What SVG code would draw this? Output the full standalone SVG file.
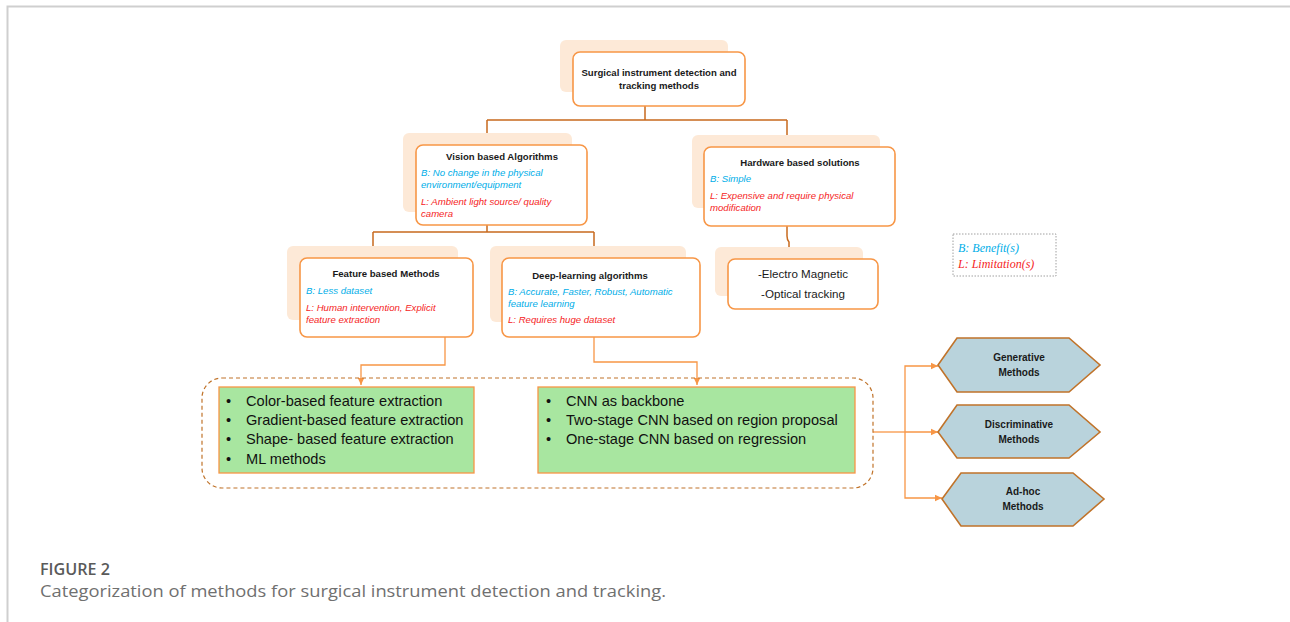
<svg xmlns="http://www.w3.org/2000/svg" width="1290" height="622" viewBox="0 0 1290 622">
<defs>
<style>
.shadow{fill:#fde9d7;stroke:none}
.box{fill:#fff;stroke:#f79646;stroke-width:1.6}
.t{font-family:"Liberation Sans",Arial,sans-serif;font-weight:bold;font-size:9.6px;fill:#1a1a1a;text-anchor:middle}
.b{font-family:"Liberation Sans",Arial,sans-serif;font-style:italic;font-size:9.6px;fill:#00aee8}
.l{font-family:"Liberation Sans",Arial,sans-serif;font-style:italic;font-size:9.6px;fill:#f52424}
.g{fill:#a8e6a0;stroke:#f79646;stroke-width:1.3}
.gt{font-family:"Liberation Sans",Arial,sans-serif;font-size:14.6px;fill:#111}
.hex{fill:#b9d3dc;stroke:#c0732a;stroke-width:1.6}
.ht{font-family:"Liberation Sans",Arial,sans-serif;font-weight:bold;font-size:10px;fill:#1a1a1a;text-anchor:middle}
.conn{fill:none;stroke:#c86a1e;stroke-width:1.5}
.arr{fill:none;stroke:#f79646;stroke-width:1.3}
</style>
<marker id="ah" markerWidth="8" markerHeight="8" refX="7" refY="4" orient="auto" markerUnits="userSpaceOnUse">
<path d="M0,0.8 L7,4 L0,7.2 Z" fill="#f79646"/>
</marker>
</defs>
<rect width="1290" height="622" fill="#fff"/>
<path d="M7.5,622 V6.5 H1290" fill="none" stroke="#cfcfcf" stroke-width="2"/>

<g id="connectors">
<path class="conn" d="M645,106 V120 M487,120 H787 M487,120 V145 M787,120 V147"/>
<path class="conn" d="M487,225 V232 M373,232 H594 M373,232 V258 M594,232 V258"/>
<path class="conn" d="M787,226 V236 Q787,240 789,242 V259"/>
<path class="arr" d="M445,337 V365 H361 V385" marker-end="url(#ah)"/>
<path class="arr" d="M594,337 V362 H697 V385" marker-end="url(#ah)"/>
<path class="arr" d="M873,432 H905"/>
<path class="arr" d="M905,432 V366 H938" marker-end="url(#ah)"/>
<path class="arr" d="M905,432 H938" marker-end="url(#ah)"/>
<path class="arr" d="M905,432 V498 H942" marker-end="url(#ah)"/>
</g>

<g id="top">
<rect class="shadow" x="560" y="40" width="168" height="52" rx="6"/>
<rect class="box" x="573" y="52" width="172" height="54" rx="7"/>
<text class="t" x="659" y="76">Surgical instrument detection and</text>
<text class="t" x="659" y="89">tracking methods</text>
</g>

<g id="vision">
<rect class="shadow" x="403" y="133" width="169" height="79" rx="6"/>
<rect class="box" x="416" y="145" width="171" height="80" rx="7"/>
<text class="t" x="502" y="160">Vision based Algorithms</text>
<text class="b" x="421" y="176">B: No change in the physical</text>
<text class="b" x="421" y="188">environment/equipment</text>
<text class="l" x="421" y="205">L: Ambient light source/ quality</text>
<text class="l" x="421" y="217">camera</text>
</g>

<g id="hardware">
<rect class="shadow" x="692" y="135" width="188" height="73" rx="6"/>
<rect class="box" x="704" y="147" width="191" height="79" rx="7"/>
<text class="t" x="800" y="166">Hardware based solutions</text>
<text class="b" x="710" y="182">B: Simple</text>
<text class="l" x="710" y="199">L: Expensive and require physical</text>
<text class="l" x="710" y="211">modification</text>
</g>

<g id="feature">
<rect class="shadow" x="287" y="246" width="171" height="74" rx="6"/>
<rect class="box" x="300" y="258" width="173" height="79" rx="7"/>
<text class="t" x="386" y="277">Feature based Methods</text>
<text class="b" x="306" y="294">B: Less dataset</text>
<text class="l" x="306" y="311">L: Human intervention, Explicit</text>
<text class="l" x="306" y="323">feature extraction</text>
</g>

<g id="deep">
<rect class="shadow" x="490" y="246" width="196" height="76" rx="6"/>
<rect class="box" x="502" y="258" width="198" height="79" rx="7"/>
<text class="t" x="590" y="279">Deep-learning algorithms</text>
<text class="b" x="508" y="295">B: Accurate, Faster, Robust, Automatic</text>
<text class="b" x="508" y="307">feature learning</text>
<text class="l" x="508" y="323">L: Requires huge dataset</text>
</g>

<g id="em">
<rect class="shadow" x="715" y="247" width="148" height="49" rx="6"/>
<rect class="box" x="728" y="259" width="150" height="50" rx="7"/>
<text x="803" y="278" text-anchor="middle" font-family="Liberation Sans,Arial,sans-serif" font-size="11.6" fill="#1a1a1a">-Electro Magnetic</text>
<text x="803" y="298" text-anchor="middle" font-family="Liberation Sans,Arial,sans-serif" font-size="11.6" fill="#1a1a1a">-Optical tracking</text>
</g>

<g id="legend">
<rect x="953" y="234" width="103" height="42" fill="#fff" stroke="#888" stroke-width="0.8" stroke-dasharray="1.5,1.5"/>
<text x="958" y="252" font-family="Liberation Serif,serif" font-style="italic" font-size="12" fill="#00aee8">B: Benefit(s)</text>
<text x="958" y="268" font-family="Liberation Serif,serif" font-style="italic" font-size="12" fill="#f52424">L: Limitation(s)</text>
</g>

<g id="group">
<rect x="202" y="378" width="671" height="110" rx="20" fill="none" stroke="#c0732a" stroke-width="1.2" stroke-dasharray="4,3"/>
</g>

<g id="list1">
<rect class="g" x="219" y="387" width="255" height="86"/>
<text class="gt" x="226" y="406">•</text><text class="gt" x="246" y="406">Color-based feature extraction</text>
<text class="gt" x="226" y="425">•</text><text class="gt" x="246" y="425">Gradient-based feature extraction</text>
<text class="gt" x="226" y="444">•</text><text class="gt" x="246" y="444">Shape- based feature extraction</text>
<text class="gt" x="226" y="464">•</text><text class="gt" x="246" y="464">ML methods</text>
</g>

<g id="list2">
<rect class="g" x="538" y="387" width="317" height="86"/>
<text class="gt" x="546" y="406">•</text><text class="gt" x="566" y="406">CNN as backbone</text>
<text class="gt" x="546" y="425">•</text><text class="gt" x="566" y="425">Two-stage CNN based on region proposal</text>
<text class="gt" x="546" y="444">•</text><text class="gt" x="566" y="444">One-stage CNN based on regression</text>
</g>

<g id="generative">
<polygon class="hex" points="938,365 957,338 1069,338 1100,365 1069,392 957,392"/>
<text class="ht" x="1019" y="361">Generative</text>
<text class="ht" x="1019" y="376">Methods</text>
</g>
<g id="discriminative">
<polygon class="hex" points="938,432 957,405 1069,405 1100,432 1069,458 957,458"/>
<text class="ht" x="1019" y="428">Discriminative</text>
<text class="ht" x="1019" y="443">Methods</text>
</g>
<g id="adhoc">
<polygon class="hex" points="942,499 961,473 1073,473 1104,499 1073,526 961,526"/>
<text class="ht" x="1023" y="495">Ad-hoc</text>
<text class="ht" x="1023" y="510">Methods</text>
</g>

<g id="caption">
<text x="40" y="575" font-family="Open Sans,sans-serif" font-weight="600" font-size="17" fill="#5a5a5a" textLength="70" lengthAdjust="spacingAndGlyphs">FIGURE 2</text>
<text x="40" y="597" font-family="Open Sans,sans-serif" font-size="17" fill="#707070" textLength="626" lengthAdjust="spacingAndGlyphs">Categorization of methods for surgical instrument detection and tracking.</text>
</g>
</svg>
